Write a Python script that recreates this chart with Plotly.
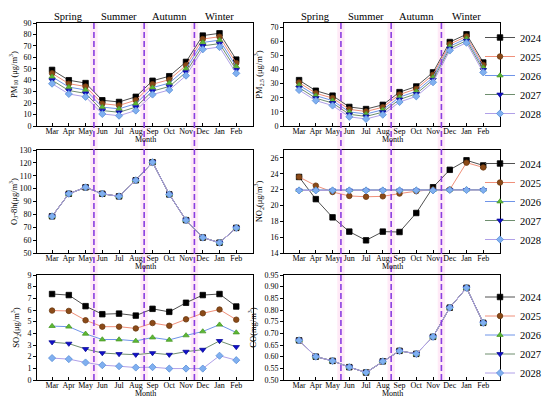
import plotly.graph_objects as go

months = ["Mar", "Apr", "May", "Jun", "Jul", "Aug", "Sep", "Oct", "Nov", "Dec", "Jan", "Feb"]
years = ["2024", "2025", "2026", "2027", "2028"]
seasons = ["Spring", "Summer", "Autumn", "Winter"]

pm10_2024 = [49, 40, 37.5, 22.5, 21, 25.5, 39.5, 43.5, 56, 79, 81, 58]
pm10_2025 = [46, 37, 34.5, 19.5, 18, 22.5, 36.5, 40.5, 53, 76, 78, 55]
pm10_2026 = [43, 34, 31.5, 16.5, 15, 19.5, 33.5, 37.5, 50, 73, 75, 52]
pm10_2027 = [40, 31, 28.5, 13.5, 12, 16.5, 30.5, 34.5, 47, 70, 72, 49]
pm10_2028 = [37, 28, 25.5, 10.5, 9, 13.5, 27.5, 31.5, 44, 67, 69, 46]

pm25_2024 = [32.5, 25, 21.5, 13.5, 12, 15, 24, 28, 38, 59.5, 65, 45]
pm25_2025 = [30.8, 23.2, 19.8, 11.8, 10.3, 13.3, 22.3, 26.3, 36.3, 58, 63.5, 43.3]
pm25_2026 = [29, 21.5, 18, 10, 8.5, 11.5, 20.5, 24.5, 34.5, 56.5, 62, 41.5]
pm25_2027 = [27.2, 19.7, 16.3, 8.3, 6.8, 9.8, 18.8, 22.8, 32.8, 55, 60.5, 39.7]
pm25_2028 = [25.5, 18, 14.5, 6.5, 5, 8, 17, 21, 31, 53.5, 59, 38]

o3_2024 = [78.5, 96, 101, 96, 94, 106.5, 120.5, 95.5, 75.5, 62, 58, 69.5]
o3_2025 = [78.5, 96, 101, 96, 94, 106.5, 120.5, 95.5, 75.5, 62, 58, 69.5]
o3_2026 = [78.5, 96, 101, 96, 94, 106.5, 120.5, 95.5, 75.5, 62, 58, 69.5]
o3_2027 = [78.5, 96, 101, 96, 94, 106.5, 120.5, 95.5, 75.5, 62, 58, 69.5]
o3_2028 = [78.5, 96, 101, 96, 94, 106.5, 120.5, 95.5, 75.5, 62, 58, 69.5]

no2_2024 = [23.6, 20.8, 18.5, 16.7, 15.6, 16.7, 16.65, 19.05, 22.3, 24.5, 25.7, 25.05]
no2_2025 = [23.6, 22.5, 21.7, 21.2, 21.1, 21.15, 21.5, 21.8, 22.0, 22.0, 25.4, 24.8]
no2_2026 = [21.95, 21.95, 21.95, 21.95, 21.95, 21.95, 21.95, 21.95, 21.95, 22.0, 22.0, 22.0]
no2_2027 = [21.9, 21.9, 21.9, 21.9, 21.9, 21.9, 21.9, 21.9, 21.9, 21.95, 21.95, 21.95]
no2_2028 = [21.9, 21.9, 21.9, 21.9, 21.9, 21.9, 21.9, 21.9, 21.9, 21.95, 21.95, 21.95]

so2_2024 = [7.37, 7.28, 6.33, 5.64, 5.69, 5.52, 6.1, 5.84, 6.62, 7.28, 7.37, 6.3]
so2_2025 = [5.95, 5.92, 5.12, 4.57, 4.57, 4.42, 4.88, 4.65, 5.2, 5.72, 6.04, 5.17]
so2_2026 = [4.62, 4.57, 3.96, 3.47, 3.47, 3.35, 3.64, 3.44, 3.82, 4.16, 4.74, 4.07]
so2_2027 = [3.24, 3.12, 2.66, 2.31, 2.23, 2.17, 2.31, 2.17, 2.43, 2.6, 3.35, 2.83]
so2_2028 = [1.88, 1.79, 1.5, 1.27, 1.18, 1.07, 1.1, 0.98, 0.98, 0.98, 2.08, 1.7]

co_2024 = [0.67, 0.60, 0.582, 0.555, 0.532, 0.58, 0.625, 0.612, 0.685, 0.81, 0.895, 0.745]
co_2025 = [0.67, 0.60, 0.582, 0.555, 0.532, 0.58, 0.625, 0.612, 0.685, 0.81, 0.895, 0.745]
co_2026 = [0.67, 0.60, 0.582, 0.555, 0.532, 0.58, 0.625, 0.612, 0.685, 0.81, 0.895, 0.745]
co_2027 = [0.67, 0.60, 0.582, 0.555, 0.532, 0.58, 0.625, 0.612, 0.685, 0.81, 0.895, 0.745]
co_2028 = [0.67, 0.60, 0.582, 0.555, 0.532, 0.58, 0.625, 0.612, 0.685, 0.81, 0.895, 0.745]

season_centers = [2, 5, 8, 11]
season_bounds = [3.5, 6.5, 9.5]

panels = [
    dict(series=[pm10_2024, pm10_2025, pm10_2026, pm10_2027, pm10_2028],
         title="PM<sub>10</sub> (μg/m<sup>3</sup>)", rng=[0, 90], dtick=10, fmt=None, legend=None),
    dict(series=[pm25_2024, pm25_2025, pm25_2026, pm25_2027, pm25_2028],
         title="PM<sub>2.5</sub> (μg/m<sup>3</sup>)", rng=[0, 73], dtick=10, fmt=None, legend="legend"),
    dict(series=[o3_2024, o3_2025, o3_2026, o3_2027, o3_2028],
         title="O<sub>3</sub>-8h(μg/m<sup>3</sup>)", rng=[50, 130], dtick=10, fmt=None, legend=None),
    dict(series=[no2_2024, no2_2025, no2_2026, no2_2027, no2_2028],
         title="NO<sub>2</sub>(μg/m<sup>3</sup>)", rng=[14, 27], dtick=2, fmt=None, legend="legend2"),
    dict(series=[so2_2024, so2_2025, so2_2026, so2_2027, so2_2028],
         title="SO<sub>2</sub>(μg/m<sup>3</sup>)", rng=[0, 9], dtick=1, fmt=None, legend=None),
    dict(series=[co_2024, co_2025, co_2026, co_2027, co_2028],
         title="CO(mg/m<sup>3</sup>)", rng=[0.5, 0.95], dtick=0.05, fmt=".2f", legend="legend3"),
]

marker_colors = ["#000000", "#8B4A18", "#5DB834", "#1010CC", "#80B0F0"]
marker_edges = ["#000000", "#6B3A10", "#4A9A28", "#0A0A99", "#5A8FD8"]
line_colors = ["#505050", "#F0907A", "#6F94E8", "#6E8E6E", "#B0A0E8"]
symbols = ["square", "circle", "triangle-up", "triangle-down", "diamond"]

FONT = "Liberation Serif, Times New Roman, serif"

W, H = 550, 396
ml, mt = 29, 15
plot_right, plot_bottom = 492, 372
mr, mb = W - plot_right, H - plot_bottom
pw, ph = plot_right - ml, plot_bottom - mt

def px_x(p):
    return (p - ml) / pw

def px_y(p):
    return (plot_bottom - p) / ph

col_dom = [[px_x(29), px_x(245)], [px_x(276), px_x(492)]]
row_dom = [[px_y(118), px_y(15)], [px_y(245), px_y(142)], [px_y(372), px_y(267)]]

fig = go.Figure()
x_vals = list(range(1, 13))

for k, p in enumerate(panels):
    ax = "" if k == 0 else str(k + 1)
    for i, yr in enumerate(years):
        fig.add_trace(go.Scatter(
            x=x_vals, y=p["series"][i], name=yr, mode="lines+markers",
            xaxis="x" + ax, yaxis="y" + ax,
            line=dict(color=line_colors[i], width=1),
            marker=dict(symbol=symbols[i], size=5.5, color=marker_colors[i],
                        line=dict(color=marker_edges[i], width=0.8)),
            showlegend=p["legend"] is not None,
            legend=p["legend"] if p["legend"] else "legend",
        ))

layout = dict(
    width=W, height=H, margin=dict(l=ml, r=mr, t=mt, b=mb, autoexpand=False),
    paper_bgcolor="white", plot_bgcolor="white",
    font=dict(family=FONT, size=8, color="black"),
)

annotations = []
for k, p in enumerate(panels):
    r, c = divmod(k, 2)
    sfx = "" if k == 0 else str(k + 1)
    layout["xaxis" + sfx] = dict(
        domain=col_dom[c], anchor="y" + sfx, range=[0.1, 13.0],
        tickvals=x_vals, ticktext=months, tickfont=dict(size=8), tickangle=0,
        showline=True, linecolor="black", linewidth=1, mirror=True,
        ticks="inside", ticklen=3, tickcolor="black", showgrid=False, zeroline=False,
        ticklabelstandoff=-3, automargin=False,
    )
    ya = dict(
        domain=row_dom[r], anchor="x" + sfx, range=p["rng"], dtick=p["dtick"],
        tickfont=dict(size=8), showline=True, linecolor="black", linewidth=1, mirror=True,
        ticks="outside", ticklen=3, tickcolor="black", showgrid=False, zeroline=False,
        title=dict(text=p["title"], font=dict(size=8.5), standoff=6), automargin=False,
    )
    if p["fmt"]:
        ya["tickformat"] = p["fmt"]
    layout["yaxis" + sfx] = ya
    annotations.append(dict(text="Month", xref="x" + sfx + " domain", yref="y" + sfx + " domain",
                            x=0.5, y=0, yanchor="middle", yshift=-13, showarrow=False,
                            font=dict(size=8, family=FONT)))

legend_style = dict(font=dict(size=10.5, family=FONT), bgcolor="rgba(0,0,0,0)",
                    borderwidth=0, xanchor="left", yanchor="middle", tracegroupgap=0,
                    itemwidth=30)
lx = px_x(472)
layout["legend"] = dict(x=lx, y=px_y(67.5), **legend_style)
layout["legend2"] = dict(x=lx, y=px_y(193.5), **legend_style)
layout["legend3"] = dict(x=lx, y=px_y(327), **legend_style)

fig.update_layout(**layout)

shapes = []
for c in range(2):
    xr = "x" if c == 0 else "x2"
    for b in season_bounds:
        shapes.append(dict(type="rect", xref=xr, yref="paper", x0=b - 0.22, x1=b + 0.22,
                           y0=px_y(372), y1=px_y(15), fillcolor="rgba(255,195,232,0.35)",
                           line=dict(width=0), layer="below"))
        shapes.append(dict(type="line", xref=xr, yref="paper", x0=b, x1=b,
                           y0=px_y(372), y1=px_y(15),
                           line=dict(color="#8B3DE0", width=1.6, dash="6px,3px")))
    for s, cx in zip(seasons, season_centers):
        annotations.append(dict(text=s, xref=xr, yref="paper", x=cx, y=px_y(15),
                                yanchor="middle", showarrow=False,
                                font=dict(size=10.5, family=FONT), yshift=7))

fig.update_layout(shapes=shapes, annotations=annotations)
fig.write_html("out.html")
